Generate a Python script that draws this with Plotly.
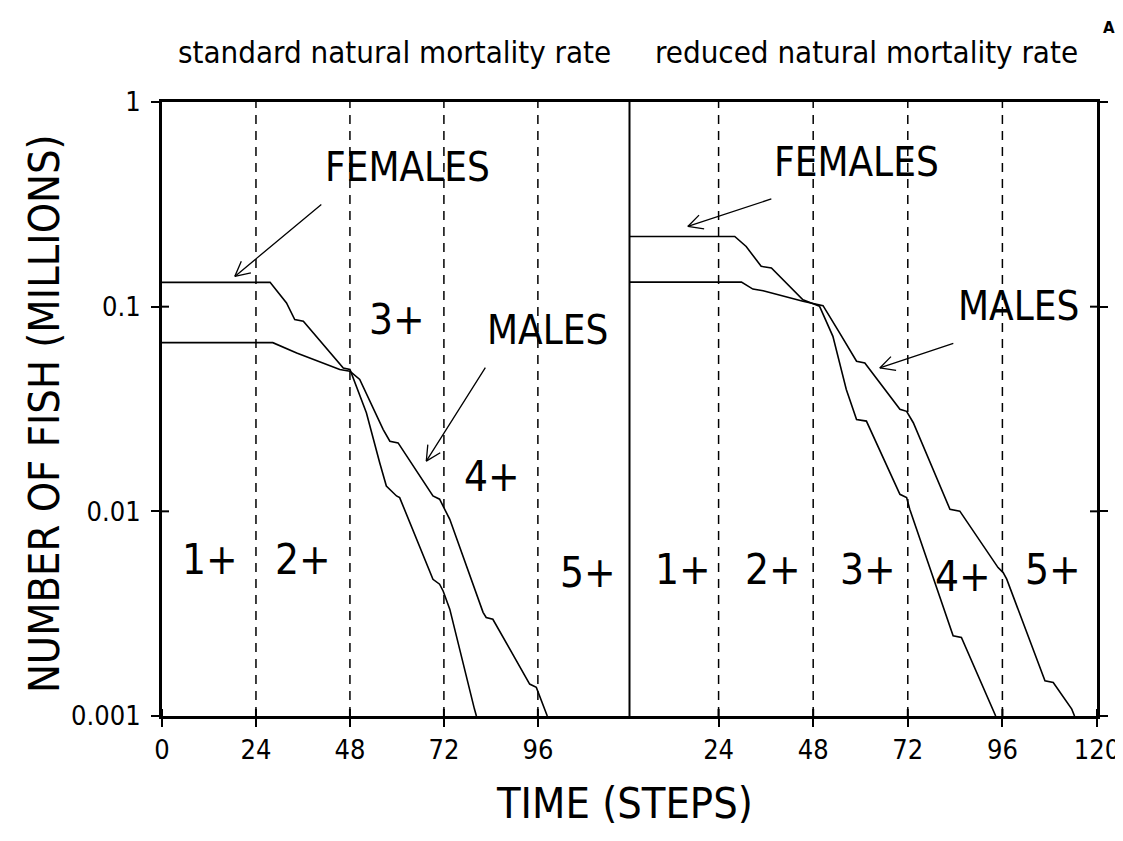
import math
import plotly.graph_objects as go

# ---------------- data ----------------
# standard natural mortality rate (left panel)
std_fem_t = [0, 27.6, 31.8, 33.9, 36.1, 46.3, 48.0, 52.2, 55.6, 57.3, 59.9, 60.7,
             69.2, 70.9, 71.8, 73.5, 79.8, 80.3]
std_fem_n = [0.1315, 0.1315, 0.1042, 0.0865, 0.0849, 0.0502, 0.0493, 0.0303, 0.01726,
             0.0133, 0.01189, 0.01167, 0.004656, 0.004406, 0.004083, 0.003327, 0.001081, 0.001]
std_mal_t = [0, 28.3, 34.4, 45.4, 48.0, 50.5, 56.5, 58.2, 60.3, 69.2, 70.9, 71.8, 73.5,
             82.0, 82.8, 84.5, 93.9, 95.6, 97.7, 98.4]
std_mal_n = [0.0667, 0.0667, 0.0594, 0.0493, 0.0484, 0.0441, 0.0251, 0.0220, 0.0216,
             0.01189, 0.01146, 0.01062, 0.00914, 0.00321, 0.00303, 0.00297, 0.001432,
             0.00138, 0.00108, 0.001]
# reduced natural mortality rate (right panel)
red_fem_t = [0, 28.1, 31.0, 34.8, 37.4, 45.4, 47.5, 49.6, 53.0, 56.4, 59.0, 61.5, 70.0,
             71.7, 72.5, 83.5, 85.6, 93.7, 94.3]
red_fem_n = [0.2203, 0.2203, 0.1968, 0.1574, 0.1545, 0.1081, 0.1042, 0.1005, 0.0716,
             0.0394, 0.0281, 0.0276, 0.01211, 0.01167, 0.01023, 0.002466, 0.002421,
             0.001081, 0.001]
red_mal_t = [0, 29.8, 32.7, 35.3, 45.4, 47.5, 50.5, 54.7, 59.0, 61.1, 65.7, 70.0, 71.7,
             73.4, 82.7, 85.2, 94.9, 96.2, 97.1, 106.8, 108.9, 113.6, 114.3]
red_mal_n = [0.1318, 0.1318, 0.1219, 0.1197, 0.1062, 0.1042, 0.1012, 0.0745, 0.0541,
             0.0531, 0.0408, 0.0315, 0.0308, 0.0271, 0.01023, 0.01002, 0.00531, 0.00502,
             0.00466, 0.001486, 0.001459, 0.001081, 0.001]

age_boundaries = [24, 48, 72, 96]
left_xticks = [0, 24, 48, 72, 96]
right_xticks = [24, 48, 72, 96, 120]
y_ticks = [0.001, 0.01, 0.1, 1]
y_ticktext = ["0.001", "0.01", "0.1", "1"]

age_labels = ["1+", "2+", "3+", "4+", "5+"]
left_age_t = [12.2, 36.0, 60.0, 84.2, 108.7]
left_age_n = [0.00583, 0.00583, 0.0865, 0.0148, 0.00504]
right_age_t = [14.9, 37.7, 61.8, 86.0, 108.8]
right_age_n = [0.00521, 0.00521, 0.00521, 0.00482, 0.00521]

panel_titles = ["standard natural mortality rate", "reduced natural mortality rate"]

FONT = "DejaVu Sans Condensed, Liberation Sans Narrow, Arial Narrow, sans-serif"

# page body has an 8px offset; figure sized so no scrollbars appear
W, H = 1115, 825
ML, MT = 154, 94
PW, PH = 935, 614

fig = go.Figure()
line_style = dict(color="black", width=1.6)
fig.add_trace(go.Scatter(x=std_fem_t, y=std_fem_n, mode="lines", line=line_style,
                         xaxis="x", yaxis="y", showlegend=False))
fig.add_trace(go.Scatter(x=std_mal_t, y=std_mal_n, mode="lines", line=line_style,
                         xaxis="x", yaxis="y", showlegend=False))
fig.add_trace(go.Scatter(x=red_fem_t, y=red_fem_n, mode="lines", line=line_style,
                         xaxis="x2", yaxis="y2", showlegend=False))
fig.add_trace(go.Scatter(x=red_mal_t, y=red_mal_n, mode="lines", line=line_style,
                         xaxis="x2", yaxis="y2", showlegend=False))

shapes = []
for xr in ["x", "x2"]:
    for b in age_boundaries:
        shapes.append(dict(type="line", xref=xr, yref="paper", x0=b, x1=b, y0=0, y1=1,
                           line=dict(color="black", width=1.5, dash="9px,7px")))
# panel divider
shapes.append(dict(type="line", xref="paper", yref="paper", x0=0.5, x1=0.5, y0=0, y1=1,
                   line=dict(color="black", width=2)))
# inward halves of the crossing tick marks
tin_y = 7 / PH
tin_x = 7 / PW
for xr, vals in [("x", left_xticks), ("x2", right_xticks)]:
    for v in vals:
        shapes.append(dict(type="line", xref=xr, yref="paper", x0=v, x1=v, y0=0, y1=tin_y,
                           line=dict(color="black", width=2)))
for v in y_ticks[1:3]:
    shapes.append(dict(type="line", xref="paper", yref="y", x0=0, x1=tin_x, y0=v, y1=v,
                       line=dict(color="black", width=2)))
    shapes.append(dict(type="line", xref="paper", yref="y", x0=1 - tin_x, x1=1, y0=v, y1=v,
                       line=dict(color="black", width=2)))

annotations = []
# age class labels
for xr, yr, ts, ns in [("x", "y", left_age_t, left_age_n), ("x2", "y2", right_age_t, right_age_n)]:
    for lab, t, n in zip(age_labels, ts, ns):
        annotations.append(dict(text=lab, x=t, y=math.log10(n), xref=xr, yref=yr,
                                xanchor="center", yanchor="middle", showarrow=False,
                                font=dict(family=FONT, size=42, color="black")))

# FEMALES / MALES labels
for xr, yr, txt, t, n in [("x", "y", "FEMALES", 62.8, 0.482), ("x", "y", "MALES", 98.5, 0.0773),
                          ("x2", "y2", "FEMALES", 59.1, 0.509), ("x2", "y2", "MALES", 100.0, 0.101)]:
    annotations.append(dict(text=txt, x=t, y=math.log10(n), xref=xr, yref=yr, showarrow=False,
                            xanchor="center", yanchor="middle",
                            font=dict(family=FONT, size=40, color="black")))

# arrows: (axis, tip t, tip value, tail offset px)
arrows = [("x", "y", 18.6, 0.1406, 88, -73),
          ("x", "y", 67.5, 0.0176, 60, -95),
          ("x2", "y2", 16.2, 0.2466, 85, -28),
          ("x2", "y2", 64.9, 0.0502, 75, -25)]
for xr, yr, t, n, ax, ay in arrows:
    annotations.append(dict(text="", x=t, y=math.log10(n), xref=xr, yref=yr, showarrow=True,
                            ax=ax, ay=ay, arrowhead=0, arrowwidth=1.3, arrowcolor="black"))
    L = math.hypot(ax, ay)
    ux, uy = ax / L, ay / L
    for ang in (math.radians(27), math.radians(-27)):
        bx = 18 * (ux * math.cos(ang) - uy * math.sin(ang))
        by = 18 * (ux * math.sin(ang) + uy * math.cos(ang))
        annotations.append(dict(text="", x=t, y=math.log10(n), xref=xr, yref=yr, showarrow=True,
                                ax=bx, ay=by, arrowhead=0, arrowwidth=1.3, arrowcolor="black"))

# panel titles
annotations.append(dict(text=panel_titles[0], x=0.249, y=1.081, xref="paper", yref="paper",
                        showarrow=False, xanchor="center", yanchor="middle",
                        font=dict(family=FONT, size=31, color="black")))
annotations.append(dict(text=panel_titles[1], x=0.753, y=1.081, xref="paper", yref="paper",
                        showarrow=False, xanchor="center", yanchor="middle",
                        font=dict(family=FONT, size=31, color="black")))
annotations.append(dict(text="<b>A</b>", x=1.013, y=1.12, xref="paper", yref="paper",
                        showarrow=False, xanchor="center", yanchor="middle",
                        font=dict(family="DejaVu Sans, Arial", size=15, color="black")))
# axis titles
annotations.append(dict(text="TIME (STEPS)", x=0.495, y=-0.142, xref="paper", yref="paper",
                        showarrow=False, xanchor="center", yanchor="middle",
                        font=dict(family=FONT, size=43, color="black")))
annotations.append(dict(text="NUMBER OF FISH (MILLIONS)", x=-0.126, y=0.492, xref="paper", yref="paper",
                        showarrow=False, textangle=-90, xanchor="center", yanchor="middle",
                        font=dict(family=FONT, size=43, color="black")))

axis_common = dict(showline=True, linewidth=3, linecolor="black", ticks="outside", ticklen=8,
                   tickwidth=2, tickcolor="black", showgrid=False, zeroline=False,
                   automargin=False, ticklabeloverflow="allow",
                   tickfont=dict(family=FONT, size=27, color="black"))

fig.update_layout(
    width=W, height=H,
    margin=dict(l=ML, r=W - ML - PW, t=MT, b=H - MT - PH),
    paper_bgcolor="white", plot_bgcolor="white",
    shapes=shapes, annotations=annotations,
    xaxis=dict(domain=[0, 0.5], range=[0, 119.4], anchor="y", mirror=True,
               tickvals=left_xticks, **axis_common),
    xaxis2=dict(domain=[0.5, 1], range=[1.4, 120], anchor="y2", mirror=True,
                tickvals=right_xticks, **axis_common),
    yaxis=dict(type="log", range=[-3, 0], anchor="x", tickvals=y_ticks, ticktext=y_ticktext,
               ticklabelstandoff=5, **axis_common),
    yaxis2=dict(type="log", range=[-3, 0], anchor="x2", side="right", matches="y",
                tickvals=y_ticks, showticklabels=False, **axis_common),
)

fig.write_html("out.html")
